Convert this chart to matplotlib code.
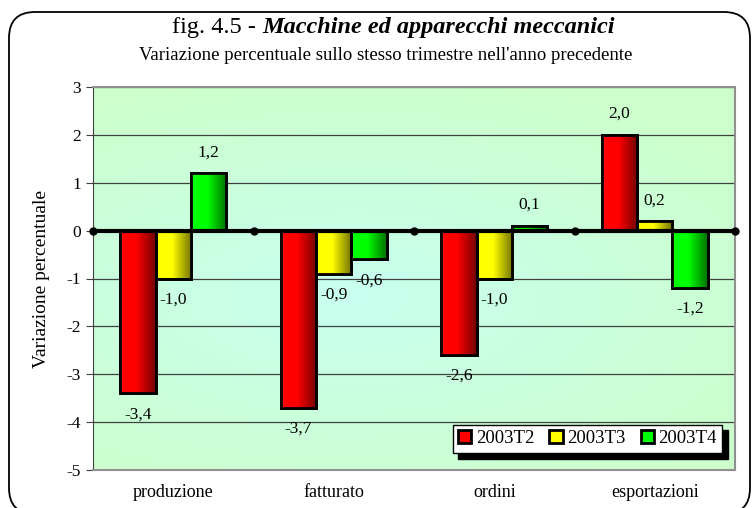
import numpy as np
import matplotlib
matplotlib.use("Agg")
import matplotlib.pyplot as plt
from matplotlib.colors import LinearSegmentedColormap, to_rgb
from matplotlib.patches import FancyBboxPatch

categories = ["produzione", "fatturato", "ordini", "esportazioni"]
series = ["2003T2", "2003T3", "2003T4"]
values = {
    "2003T2": [-3.4, -3.7, -2.6, 2.0],
    "2003T3": [-1.0, -0.9, -1.0, 0.2],
    "2003T4": [1.2, -0.6, 0.1, -1.2],
}
colors = {"2003T2": "#ff0000", "2003T3": "#ffff00", "2003T4": "#00ff00"}
yticks = [-5, -4, -3, -2, -1, 0, 1, 2, 3]

plt.rcParams["font.family"] = ["Liberation Serif", "DejaVu Serif"]

fig = plt.figure(figsize=(7.54, 5.08), dpi=100)

# rounded outer frame, drawn in pixel coordinates (origin bottom-left)
bgax = fig.add_axes([0, 0, 1, 1], zorder=-5)
bgax.set_xlim(0, 754)
bgax.set_ylim(0, 508)
bgax.axis("off")
bgax.add_patch(FancyBboxPatch((9, -6), 741, 502, boxstyle="round,pad=0,rounding_size=26",
                              fill=False, edgecolor="black", linewidth=1.3, clip_on=False))

ax = fig.add_axes([93 / 754, 1 - 470 / 508, 642 / 754, 383 / 508])

# plot area background (soft radial gradient)
gy, gx = np.mgrid[0:1:200j, 0:1:200j]
r = np.sqrt((gx - 0.4) ** 2 + ((gy - 0.45) * 1.3) ** 2)
r = np.clip(r / 0.75, 0, 1)
c_in = np.array(to_rgb("#c8fff0"))
c_out = np.array(to_rgb("#ccffcc"))
bg = c_in[None, None, :] * (1 - r[..., None]) + c_out[None, None, :] * r[..., None]
ax.imshow(bg, extent=[0, 1, 0, 1], transform=ax.transAxes, aspect="auto",
          zorder=0, origin="lower")

x = np.arange(len(categories))
width = 0.22
grad = np.linspace(0, 1, 64)[None, :]

def shade_cmap(c):
    base = np.array(to_rgb(c))
    dark = base * 0.45
    return LinearSegmentedColormap.from_list(
        "s", [(0, "white"), (0.06, base), (0.45, base), (1, dark)])

for i, s in enumerate(series):
    pos = x + (i - 1) * width
    bars = ax.bar(pos, values[s], width, color=colors[s], edgecolor="black",
                  linewidth=2, zorder=3, label=s)
    cm = shade_cmap(colors[s])
    for b, v, p in zip(bars, values[s], pos):
        im = ax.imshow(grad, cmap=cm, aspect="auto", zorder=3.5,
                       extent=[p - width / 2, p + width / 2, min(0, v), max(0, v)])
        im.set_clip_path(b)
        ax.bar(p, v, width, fill=False, edgecolor="black", linewidth=2, zorder=4)
        off = 15 if v >= 0 else -15
        ax.annotate(f"{v:.1f}".replace(".", ","), (p, v), xytext=(0, off),
                    textcoords="offset points", ha="center", va="center",
                    fontsize=12.5, zorder=5)

ax.set_xlim(-0.5, len(categories) - 0.5)
ax.set_ylim(-5, 3)
ax.set_yticks(yticks)
ax.set_yticklabels([str(t) for t in yticks], fontsize=12.5)
ax.yaxis.grid(True, color="#404040", linewidth=0.9)
ax.set_axisbelow(True)
ax.set_xticks([])
ax.axhline(0, color="black", linewidth=3, zorder=4.5)
ax.plot(np.arange(len(categories) + 1) - 0.5, np.zeros(len(categories) + 1),
        "o", color="black", markersize=5, zorder=4.6, clip_on=False)

for c, xc in zip(categories, x):
    ax.text(xc, -0.06, c, transform=ax.get_xaxis_transform(), ha="center",
            va="center", fontsize=13)

for sp in ["top", "right", "bottom"]:
    ax.spines[sp].set_color("#909090")
    ax.spines[sp].set_linewidth(1.5)
ax.spines["left"].set_color("#404040")
ax.tick_params(axis="y", length=5, color="#404040")

ax.set_ylabel("Variazione percentuale", fontsize=14, labelpad=12)

fig.text(262 / 754, 1 - 27 / 508, "fig. 4.5 - ", ha="right", va="center", fontsize=17.5)
fig.text(262 / 754, 1 - 27 / 508, "Macchine ed apparecchi meccanici", ha="left",
         va="center", fontsize=17.5, fontweight="bold", fontstyle="italic")
fig.text(386 / 754, 1 - 55 / 508,
         "Variazione percentuale sullo stesso trimestre nell'anno precedente",
         ha="center", va="center", fontsize=13.5)

leg = ax.legend(loc="lower right", bbox_to_anchor=(0.995, 0.02), ncol=3, frameon=True,
                fancybox=False, edgecolor="black", fontsize=13.5, handlelength=0.7,
                handleheight=0.7, handletextpad=0.25, columnspacing=0.8,
                borderpad=0.3, shadow={"color": "black", "alpha": 1, "ox": 4, "oy": -4})
leg.get_frame().set_linewidth(1)

fig.savefig("out.png", dpi=100)
